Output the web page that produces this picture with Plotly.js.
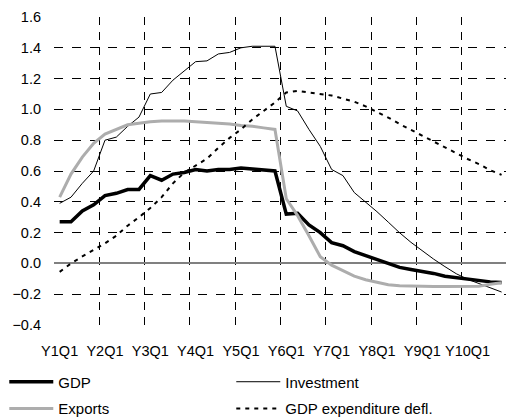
<!DOCTYPE html>
<html>
<head>
<meta charset="utf-8">
<script src="https://cdn.plot.ly/plotly-3.0.1.min.js"></script>
<style>html,body{margin:0;padding:0;background:#fff;}#chart{width:506px;height:418px;}</style>
</head>
<body>
<div id="chart"></div>
<script>
// Quarter index 0..39 = Y1Q1..Y10Q4
var quarterIndex = [];
for (var i = 0; i < 40; i++) { quarterIndex.push(i); }
var tickPositions = [0, 4, 8, 12, 16, 20, 24, 28, 32, 36];
var tickLabels = ["Y1Q1", "Y2Q1", "Y3Q1", "Y4Q1", "Y5Q1", "Y6Q1", "Y7Q1", "Y8Q1", "Y9Q1", "Y10Q1"];

var gdp = [0.27, 0.27, 0.34, 0.38, 0.44, 0.455, 0.48, 0.48, 0.57, 0.54,
           0.58, 0.59, 0.61, 0.60, 0.61, 0.61, 0.62, 0.615, 0.61, 0.60,
           0.32, 0.325, 0.25, 0.20, 0.135, 0.115, 0.077, 0.05, 0.025, -0.005,
           -0.026, -0.039, -0.05, -0.065, -0.083, -0.093, -0.101, -0.113, -0.12, -0.124];
var investment = [0.39, 0.43, 0.52, 0.60, 0.80, 0.82, 0.89, 0.95, 1.10, 1.11,
                  1.19, 1.25, 1.31, 1.315, 1.36, 1.37, 1.40, 1.41, 1.41, 1.41,
                  1.02, 0.99, 0.87, 0.76, 0.61, 0.57, 0.46, 0.40, 0.336, 0.268,
                  0.199, 0.137, 0.08, 0.028, -0.021, -0.067, -0.103, -0.131, -0.159, -0.186];
var exportsS = [0.43, 0.58, 0.69, 0.78, 0.84, 0.87, 0.90, 0.91, 0.92, 0.925,
                0.925, 0.925, 0.92, 0.915, 0.91, 0.905, 0.895, 0.89, 0.88, 0.87,
                0.42, 0.31, 0.18, 0.043, -0.011, -0.048, -0.083, -0.106, -0.124, -0.139,
                -0.145, -0.148, -0.15, -0.15, -0.15, -0.15, -0.15, -0.148, -0.136, -0.126];
var deflator = [-0.055, 0.0, 0.045, 0.085, 0.13, 0.18, 0.245, 0.30, 0.36, 0.43,
                0.52, 0.59, 0.633, 0.68, 0.75, 0.815, 0.87, 0.935, 0.99, 1.045,
                1.11, 1.12, 1.11, 1.10, 1.09, 1.07, 1.05, 1.02, 0.985, 0.947,
                0.905, 0.867, 0.83, 0.793, 0.75, 0.713, 0.678, 0.645, 0.605, 0.575];

var FONT = "Liberation Sans, Arial, sans-serif";

var traces = [
  {x: quarterIndex, y: gdp, name: "GDP", type: "scatter", mode: "lines",
   line: {color: "#000", width: 3.5}, legend: "legend"},
  {x: quarterIndex, y: investment, name: "Investment", type: "scatter", mode: "lines",
   line: {color: "#000", width: 1}, legend: "legend"},
  {x: quarterIndex, y: exportsS, name: "Exports", type: "scatter", mode: "lines",
   line: {color: "#adadad", width: 3}, legend: "legend2"},
  {x: quarterIndex, y: deflator, name: "GDP expenditure defl.", type: "scatter", mode: "lines",
   line: {color: "#000", width: 2, dash: "4px,5px"}, legend: "legend2"}
];

var legendCommon = {
  orientation: "h", xref: "paper", yref: "paper", xanchor: "left", yanchor: "middle",
  font: {family: FONT, size: 15, color: "#000"}, bgcolor: "rgba(0,0,0,0)",
  entrywidth: 168, entrywidthmode: "pixels", itemwidth: 44, tracegroupgap: 0
};

var layout = {
  width: 506, height: 418,
  margin: {l: 54, r: 0, t: 17, b: 93, pad: 0, autoexpand: false},
  paper_bgcolor: "#fff", plot_bgcolor: "#fff",
  font: {family: FONT, size: 14.5, color: "#000"},
  showlegend: true,
  xaxis: {
    type: "linear", range: [-0.5, 39.39], fixedrange: true, automargin: false,
    tickmode: "array", tickvals: tickPositions, ticktext: tickLabels,
    showgrid: false, zeroline: false, showline: false, ticks: "",
    ticklabelstandoff: 15,
    tickfont: {family: FONT, size: 14.5, color: "#000"},
    minor: {tickmode: "linear", tick0: -0.5, dtick: 4, showgrid: true,
            gridcolor: "#000000", gridwidth: 1, griddash: "8px,7px"}
  },
  yaxis: {
    range: [-0.4, 1.6], dtick: 0.2, tick0: -0.4, tickformat: ".1f", fixedrange: true, automargin: false,
    showgrid: true, gridcolor: "#000000", gridwidth: 1, griddash: "dash",
    zeroline: true, zerolinecolor: "#808080", zerolinewidth: 2,
    showline: false, ticks: "", ticklabelstandoff: 12,
    tickfont: {family: FONT, size: 14.5, color: "#000"}
  },
  legend: Object.assign({}, legendCommon, {x: -0.11, y: -0.185}),
  legend2: Object.assign({}, legendCommon, {x: -0.11, y: -0.272})
};

Plotly.newPlot("chart", traces, layout, {staticPlot: true, displayModeBar: false});
</script>
</body>
</html>
